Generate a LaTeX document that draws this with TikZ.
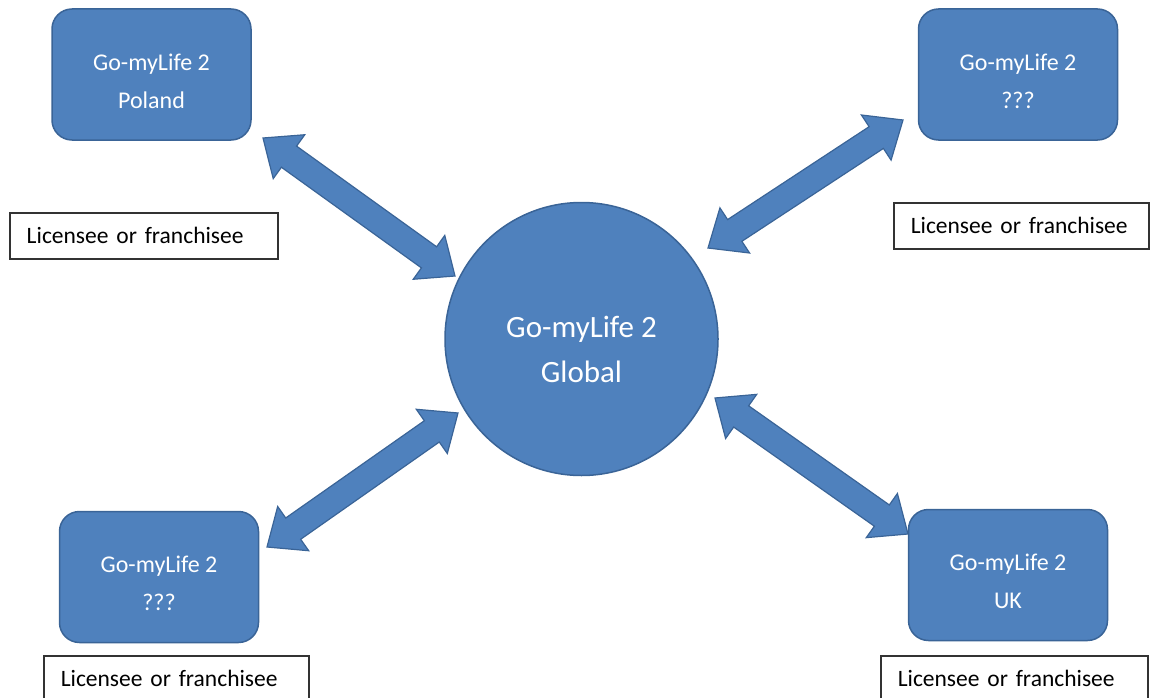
\documentclass[tikz,border=0pt]{standalone}
\usepackage{fontspec}
\setmainfont{Carlito}
\usetikzlibrary{calc}
\definecolor{boxblue}{HTML}{4F81BD}
\definecolor{edgeblue}{HTML}{3A6497}
\newcommand\topgap[1]{\rule{0pt}{#1}}
\begin{document}
\begin{tikzpicture}[x=1pt,y=-1pt,
  site/.style={draw=edgeblue,fill=boxblue,line width=1.5pt,rounded corners=20pt,
    minimum width=199pt,minimum height=131pt,align=center,text=white,
    font=\fontsize{24}{38}\selectfont},
  hub/.style={circle,draw=edgeblue,fill=boxblue,line width=1.5pt,minimum size=273pt,
    align=center,text=white,font=\fontsize{31}{45}\selectfont},
  tag/.style={draw=black!80,line width=1.5pt,minimum height=46pt,text width=#1,
    inner xsep=17pt,align=left,anchor=north west,font=\fontsize{23.5}{28}\selectfont},
  link/.style={draw=edgeblue,fill=boxblue,line width=1.2pt,line join=miter}]
\useasboundingbox(0,0)rectangle(1153,698);
\node[hub](gl)at(581.5,339){\topgap{43pt}Go-myLife 2\\Global};
\node[site](pl)at(151.5,74.5){\topgap{30pt}Go-myLife 2\\Poland};
\node[site](ne)at(1018,74.5){\topgap{30pt}Go-myLife 2\\???};
\node[site](sw)at(159,577){\topgap{30pt}Go-myLife 2\\???};
\node[site](uk)at(1008,575){\topgap{30pt}Go-myLife 2\\UK};
\node[tag=234pt](t1)at(9,212){Licensee or franchisee};
\node[tag=221pt](t2)at(893,202){Licensee or franchisee};
\node[tag=231pt](t3)at(43,655){Licensee or franchisee};
\node[tag=233pt](t4)at(880,655){Licensee or franchisee};
% arrow tips
\coordinate(a1)at(263,138);\coordinate(a2)at(455,276);
\coordinate(b1)at(903,120);\coordinate(b2)at(708,248);
\coordinate(c1)at(267,547);\coordinate(c2)at(458,413);
\coordinate(d1)at(908,534);\coordinate(d2)at(715,398);
\foreach \a/\b in{a1/a2,b1/b2,c1/c2,d1/d2}
\draw[link](\a)--($(\a)!32pt!(\b)!27pt!90:(\b)$)--($(\a)!32pt!(\b)!13pt!90:(\b)$)
--($(\b)!32pt!(\a)!13pt!-90:(\a)$)--($(\b)!32pt!(\a)!27pt!-90:(\a)$)--(\b)
--($(\b)!32pt!(\a)!27pt!90:(\a)$)--($(\b)!32pt!(\a)!13pt!90:(\a)$)
--($(\a)!32pt!(\b)!13pt!-90:(\b)$)--($(\a)!32pt!(\b)!27pt!-90:(\b)$)--cycle;
\end{tikzpicture}
\end{document}
